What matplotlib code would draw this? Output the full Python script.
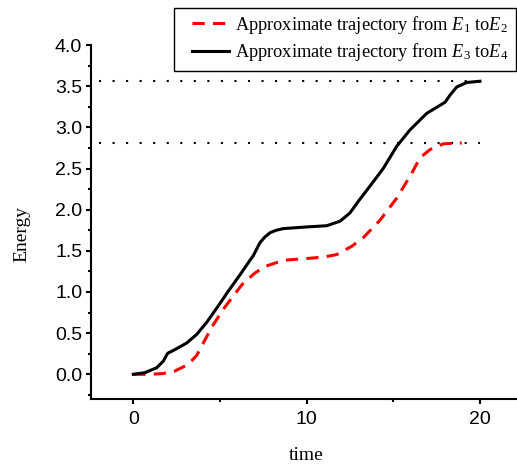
import matplotlib
matplotlib.use("Agg")
import matplotlib.pyplot as plt
from matplotlib.patches import Rectangle
from matplotlib.ticker import MultipleLocator, FormatStrFormatter

plt.rcParams['mathtext.fontset'] = 'custom'
plt.rcParams['mathtext.rm'] = 'Liberation Serif'
plt.rcParams['mathtext.it'] = 'Liberation Serif:italic'

# Data
t_black = [0, 0.67, 1.35, 1.73, 1.98, 2.4, 3.08, 3.66, 4.23, 4.9, 5.48, 6.16, 6.73,
           6.92, 7.31, 7.6, 7.89, 8.25, 8.66, 10.0, 11.16, 11.93, 12.5, 12.98, 13.27, 13.85,
           14.42, 15.2, 15.97, 16.93, 17.99, 18.27, 18.66, 19.24, 20.0]
e_black = [0.0, 0.02, 0.08, 0.16, 0.255, 0.30, 0.38, 0.485, 0.63, 0.83, 1.01, 1.21, 1.385,
           1.44, 1.60, 1.67, 1.72, 1.75, 1.77, 1.79, 1.805, 1.86, 1.96, 2.10, 2.18, 2.34,
           2.50, 2.77, 2.97, 3.17, 3.305, 3.39, 3.49, 3.545, 3.56]

t_red = [0, 1.0, 1.73, 2.4, 3.17, 3.66, 4.14, 4.52, 5.19, 5.8, 6.35, 7.02, 7.6, 8.66,
         10.2, 11.0, 11.74, 12.6, 13.27, 14.23, 15.2, 16.06, 16.54, 17.12, 17.89, 18.95]
e_red = [0.0, 0.0, 0.01, 0.04, 0.12, 0.23, 0.42, 0.57, 0.79, 0.96, 1.11, 1.23, 1.31, 1.385,
         1.41, 1.425, 1.455, 1.555, 1.66, 1.87, 2.14, 2.44, 2.63, 2.73, 2.80, 2.81]

levels = [3.56, 2.81]
level_span = [-2.0, 20.0]

labels = ["Approximate trajectory from $E_1$ to$E_2$",
          "Approximate trajectory from $E_3$ to$E_4$"]

W, H = 517, 467
fig = plt.figure(figsize=(W / 100, H / 100), dpi=100)
ax = fig.add_axes([0.1754, 0.1456, 0.8246, 0.758])

for lv in levels:
    ax.plot(level_span, [lv, lv], color='black', lw=1.5, linestyle=(0, (1, 5.5)))

l1, = ax.plot(t_red, e_red, color='#ff0000', lw=2.2, dashes=(4, 2.7), label=labels[0])
l2, = ax.plot(t_black, e_black, color='black', lw=2.2, label=labels[1])

ax.set_xlim(-2.46, 22.14)
ax.set_ylim(-0.30, 4.0)
ax.xaxis.set_major_locator(MultipleLocator(10))
ax.xaxis.set_minor_locator(MultipleLocator(5))
ax.yaxis.set_major_locator(MultipleLocator(0.5))
ax.yaxis.set_minor_locator(MultipleLocator(0.25))
ax.yaxis.set_major_formatter(FormatStrFormatter('%.1f'))

for s in ['top', 'right']:
    ax.spines[s].set_visible(False)
for s in ['left', 'bottom']:
    ax.spines[s].set_linewidth(1.5)

ax.tick_params(which='major', direction='out', length=3.6, width=1.5,
               labelsize=14, labelfontfamily='Liberation Sans')
ax.tick_params(axis='x', which='major', pad=5)
ax.tick_params(axis='y', which='major', pad=2.5)
ax.tick_params(which='minor', direction='out', length=2.2, width=1.5)

ax.set_xlabel('time', fontfamily='Liberation Serif', fontsize=14)
ax.set_ylabel('Energy', fontfamily='Liberation Serif', fontsize=14)
ax.xaxis.set_label_coords(306 / W, 1 - 456 / H, transform=fig.transFigure)
ax.yaxis.set_label_coords(22 / W, 1 - 234 / H, transform=fig.transFigure)
ax.xaxis.label.set_va('center')
ax.yaxis.label.set_va('center')

# legend (frame drawn separately)
leg = fig.legend(handles=[l1, l2], loc='center left',
                 bbox_to_anchor=(192 / W, 1 - 38.5 / H), bbox_transform=fig.transFigure,
                 borderaxespad=0, borderpad=0, frameon=False,
                 prop={'family': 'Liberation Serif', 'size': 13.2},
                 handlelength=2.0, handletextpad=0.35, labelspacing=0.32)
fig.add_artist(Rectangle((174 / W, 1 - 71 / H), (516 - 174) / W, 63 / H,
                         transform=fig.transFigure, fill=False, ec='black', lw=1.0))

fig.savefig('out.png', dpi=100)
